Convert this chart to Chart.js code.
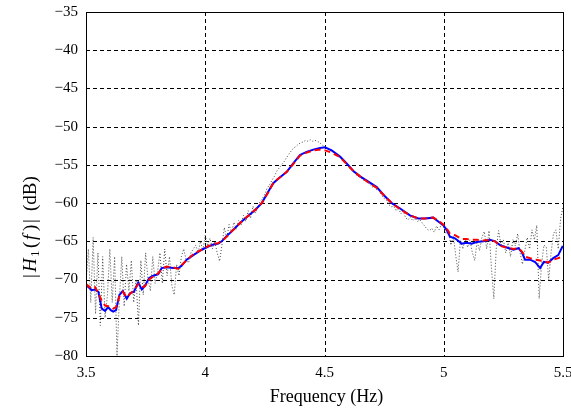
<!DOCTYPE html>
<html>
<head>
<meta charset="utf-8">
<script src="https://cdn.jsdelivr.net/npm/chart.js@4"></script>
<style>
html,body{margin:0;padding:0;background:#fff;}
#wrap{width:571px;height:409px;position:relative;}
</style>
</head>
<body>
<div id="wrap"><canvas id="c" width="571" height="409"></canvas></div>
<script>
// ---- data ----
const freq = [3.500,3.524,3.538,3.552,3.566,3.580,3.593,3.604,3.614,3.626,3.640,3.654,3.671,3.684,3.701,3.719,3.734,3.747,3.765,3.782,3.803,3.817,3.838,3.866,3.887,3.901,3.922,3.950,3.985,4.013,4.034,4.055,4.069,4.090,4.111,4.146,4.167,4.209,4.237,4.264,4.285,4.306,4.342,4.369,4.397,4.425,4.453,4.481,4.502,4.530,4.565,4.593,4.621,4.649,4.684,4.719,4.747,4.782,4.817,4.858,4.893,4.921,4.956,4.977,4.998,5.012,5.026,5.047,5.075,5.096,5.117,5.138,5.166,5.194,5.215,5.236,5.264,5.292,5.313,5.327,5.341,5.362,5.383,5.404,5.420,5.438,5.459,5.480,5.499];
const blueSeries = [-70.7,-71.4,-71.3,-71.6,-73.8,-74.1,-73.6,-74.0,-74.2,-74.0,-72.0,-71.5,-72.5,-71.8,-71.6,-70.4,-71.3,-70.8,-69.8,-69.5,-69.3,-68.5,-68.4,-68.5,-68.5,-68.2,-67.4,-66.8,-66.1,-65.7,-65.4,-65.3,-65.0,-64.3,-63.7,-62.6,-62.0,-60.9,-60.0,-58.5,-57.4,-56.8,-55.9,-54.8,-53.7,-53.3,-53.0,-52.8,-52.7,-53.1,-53.9,-54.8,-55.8,-56.5,-57.2,-57.9,-58.9,-60.0,-60.7,-61.6,-62.0,-62.0,-61.9,-62.4,-62.9,-63.5,-64.4,-64.6,-65.3,-65.2,-65.3,-65.1,-65.0,-64.8,-65.0,-65.5,-65.8,-66.1,-65.9,-66.4,-67.4,-67.4,-67.7,-68.5,-67.7,-67.8,-67.2,-66.8,-65.6];
const redSeries = [-70.6,-71.2,-71.0,-71.8,-72.8,-73.4,-73.5,-73.6,-73.8,-73.6,-72.2,-71.6,-72.3,-71.9,-71.4,-70.6,-71.0,-70.9,-70.0,-69.6,-69.2,-68.6,-68.3,-68.4,-68.6,-68.1,-67.5,-66.7,-66.1,-65.6,-65.4,-65.2,-65.0,-64.4,-63.7,-62.6,-62.0,-60.9,-60.0,-58.6,-57.4,-56.8,-55.9,-54.9,-53.8,-53.4,-53.1,-53.0,-53.1,-53.4,-54.0,-54.9,-55.8,-56.5,-57.3,-58.0,-58.9,-60.0,-60.8,-61.6,-62.0,-62.0,-61.9,-62.3,-62.8,-63.3,-64.0,-64.2,-64.7,-64.7,-64.8,-64.8,-64.9,-64.8,-65.0,-65.6,-65.8,-66.0,-65.9,-66.3,-67.0,-67.2,-67.4,-67.5,-67.6,-67.8,-67.4,-67.2,-67.0];
const freqRaw = [3.50,3.51,3.52,3.53,3.54,3.55,3.56,3.57,3.58,3.59,3.60,3.61,3.62,3.63,3.64,3.65,3.66,3.67,3.68,3.69,3.70,3.71,3.72,3.73,3.74,3.75,3.76,3.77,3.78,3.79,3.80,3.81,3.82,3.83,3.84,3.85,3.86,3.87,3.88,3.89,3.90,3.91,3.92,3.93,3.94,3.95,3.96,3.97,3.98,3.99,4.00,4.01,4.02,4.03,4.04,4.05,4.06,4.07,4.08,4.09,4.10,4.11,4.12,4.13,4.14,4.15,4.16,4.17,4.18,4.19,4.20,4.21,4.22,4.23,4.24,4.25,4.26,4.27,4.28,4.29,4.30,4.31,4.32,4.33,4.34,4.35,4.36,4.37,4.38,4.39,4.40,4.41,4.42,4.43,4.44,4.45,4.46,4.47,4.48,4.49,4.50,4.51,4.52,4.53,4.54,4.55,4.56,4.57,4.58,4.59,4.60,4.61,4.62,4.63,4.64,4.65,4.66,4.67,4.68,4.69,4.70,4.71,4.72,4.73,4.74,4.75,4.76,4.77,4.78,4.79,4.80,4.81,4.82,4.83,4.84,4.85,4.86,4.87,4.88,4.89,4.90,4.91,4.92,4.93,4.94,4.95,4.96,4.97,4.98,4.99,5.00,5.01,5.02,5.03,5.04,5.05,5.06,5.07,5.08,5.09,5.10,5.11,5.12,5.13,5.14,5.15,5.16,5.17,5.18,5.19,5.20,5.21,5.22,5.23,5.24,5.25,5.26,5.27,5.28,5.29,5.30,5.31,5.32,5.33,5.34,5.35,5.36,5.37,5.38,5.39,5.40,5.41,5.42,5.43,5.44,5.45,5.46,5.47,5.48,5.49,5.50];
const rawSeries = [-70.5,-66.0,-73.0,-64.5,-74.5,-66.5,-76.0,-67.0,-75.0,-72.0,-66.0,-73.0,-67.0,-80.0,-72.5,-67.0,-73.5,-68.0,-71.5,-67.5,-73.0,-70.0,-76.0,-67.5,-72.0,-66.5,-70.0,-71.5,-67.0,-70.5,-69.0,-66.5,-70.5,-66.0,-69.5,-67.0,-70.8,-72.0,-68.0,-69.5,-67.0,-66.0,-67.5,-67.8,-66.5,-66.0,-65.5,-66.5,-65.0,-66.2,-64.2,-65.6,-64.6,-66.0,-65.0,-66.5,-67.6,-65.5,-63.2,-64.6,-62.8,-63.9,-62.5,-63.4,-62.3,-62.9,-61.6,-62.4,-61.0,-62.0,-60.4,-61.3,-60.6,-59.8,-59.4,-58.8,-58.0,-57.6,-57.0,-56.5,-55.8,-55.4,-55.0,-54.6,-54.1,-53.6,-53.2,-52.8,-52.6,-52.3,-52.1,-52.0,-51.8,-51.9,-51.7,-51.9,-51.8,-51.9,-52.1,-52.4,-52.6,-52.8,-53.0,-53.2,-53.4,-53.7,-53.9,-54.2,-54.6,-54.8,-55.2,-55.6,-55.8,-56.2,-56.5,-56.6,-56.9,-57.1,-57.2,-57.5,-57.9,-57.8,-58.3,-58.4,-59.0,-59.4,-59.6,-60.2,-60.5,-60.4,-61.0,-60.6,-61.4,-61.0,-61.9,-62.2,-61.8,-62.3,-62.0,-62.4,-62.2,-62.6,-63.0,-63.4,-63.6,-63.3,-63.8,-63.0,-63.5,-62.8,-63.2,-64.0,-63.6,-65.5,-64.3,-66.8,-69.0,-64.8,-66.0,-64.6,-65.8,-64.8,-66.5,-67.5,-65.0,-66.2,-64.5,-63.7,-66.0,-63.6,-68.5,-72.5,-66.0,-63.6,-65.5,-64.8,-66.5,-65.2,-67.0,-64.8,-65.6,-64.0,-66.5,-68.0,-66.2,-64.5,-66.0,-63.5,-64.8,-62.9,-72.5,-68.0,-65.5,-65.7,-70.1,-66.5,-64.0,-63.5,-66.0,-62.0,-60.5];
const xTicks = [3.5, 4, 4.5, 5, 5.5];
const yTicks = [-80, -75, -70, -65, -60, -55, -50, -45, -40, -35];
const xLabel = 'Frequency (Hz)';

const pts = (xs, ys) => xs.map((x, i) => ({x: x, y: ys[i]}));

const FONT = '"Liberation Serif", "Times New Roman", serif';

const framePlugin = {
  id: 'frame',
  beforeDatasetsDraw(chart) {
    const {ctx, chartArea: a, scales} = chart;
    ctx.save();
    ctx.strokeStyle = '#000';
    ctx.lineWidth = 1;
    ctx.setLineDash([4, 3]);
    xTicks.forEach(v => {
      const px = Math.round(scales.x.getPixelForValue(v)) + 0.5;
      if (px < a.left + 2 || px > a.right - 2) return;
      ctx.beginPath(); ctx.moveTo(px, a.top); ctx.lineTo(px, a.bottom); ctx.stroke();
    });
    yTicks.forEach(v => {
      const py = Math.round(scales.y.getPixelForValue(v)) + 0.5;
      if (py < a.top + 2 || py > a.bottom - 2) return;
      ctx.beginPath(); ctx.moveTo(a.left, py); ctx.lineTo(a.right, py); ctx.stroke();
    });
    ctx.restore();
  },
  afterDatasetsDraw(chart) {
    const {ctx, chartArea: a} = chart;
    ctx.save();
    ctx.strokeStyle = '#000';
    ctx.lineWidth = 1;
    ctx.setLineDash([]);
    ctx.strokeRect(Math.round(a.left) + 0.5, Math.round(a.top) + 0.5, Math.round(a.right - a.left), Math.round(a.bottom - a.top));
    ctx.restore();
  },
  afterDraw(chart) {
    const {ctx, chartArea: a} = chart;
    ctx.save();
    ctx.fillStyle = '#000';
    // x title
    ctx.font = '18px ' + FONT;
    ctx.textAlign = 'center';
    ctx.textBaseline = 'middle';
    ctx.fillText(xLabel, (a.left + a.right) / 2 + 2, 397);
    // y title: |H_1(f)| (dB)
    ctx.translate(31, 221);
    ctx.rotate(-Math.PI / 2);
    const segs = [
      {t: '|', f: '19px ' + FONT, x: -57, dy: 0},
      {t: 'H', f: 'italic 19px ' + FONT, x: -51, dy: 0},
      {t: '1', f: '13px ' + FONT, x: -36, dy: 5},
      {t: '(', f: '19px ' + FONT, x: -27, dy: 0},
      {t: 'f', f: 'italic 19px ' + FONT, x: -19, dy: 0},
      {t: ')', f: '19px ' + FONT, x: -10, dy: 0},
      {t: '|', f: '19px ' + FONT, x: -2, dy: 0},
      {t: '(dB)', f: '19px ' + FONT, x: 10, dy: 0}
    ];
    ctx.textAlign = 'left';
    ctx.textBaseline = 'middle';
    segs.forEach(s => { ctx.font = s.f; ctx.fillText(s.t, s.x, s.dy); });
    ctx.restore();
  }
};

new Chart(document.getElementById('c'), {
  type: 'line',
  data: {
    datasets: [
      {label: 'raw', data: pts(freqRaw, rawSeries), borderColor: '#444444', borderWidth: 1, borderDash: [1, 2], pointRadius: 0, tension: 0, order: 2},
      {label: 'blue', data: pts(freq, blueSeries), borderColor: '#0000ff', borderWidth: 2, pointRadius: 0, tension: 0, order: 1},
      {label: 'red', data: pts(freq, redSeries), borderColor: '#ff0000', borderWidth: 2, borderDash: [6, 4], pointRadius: 0, tension: 0, order: 0}
    ]
  },
  options: {
    responsive: false,
    animation: false,
    layout: {padding: {top: 12, right: 8, left: 0, bottom: 0}},
    plugins: {legend: {display: false}, tooltip: {enabled: false}},
    scales: {
      x: {
        type: 'linear', min: 3.5, max: 5.5,
        afterBuildTicks: s => { s.ticks = xTicks.map(v => ({value: v})); },
        afterFit: s => { s.height = 53; s.paddingLeft = 0; s.paddingRight = 0; },
        ticks: {font: {family: FONT, size: 15}, color: '#000', padding: 8, maxRotation: 0, autoSkip: false,
                callback: v => String(v)},
        grid: {display: false, drawTicks: false},
        border: {display: false}
      },
      y: {
        type: 'linear', min: -80, max: -35,
        afterBuildTicks: s => { s.ticks = yTicks.map(v => ({value: v})); },
        afterFit: s => { s.width = 86; s.paddingTop = 0; s.paddingBottom = 0; },
        ticks: {font: {family: FONT, size: 15}, color: '#000', padding: 8, autoSkip: false,
                callback: v => String(v).replace('-', '\u2212')},
        grid: {display: false, drawTicks: false},
        border: {display: false}
      }
    }
  },
  plugins: [framePlugin]
});
</script>
</body>
</html>
